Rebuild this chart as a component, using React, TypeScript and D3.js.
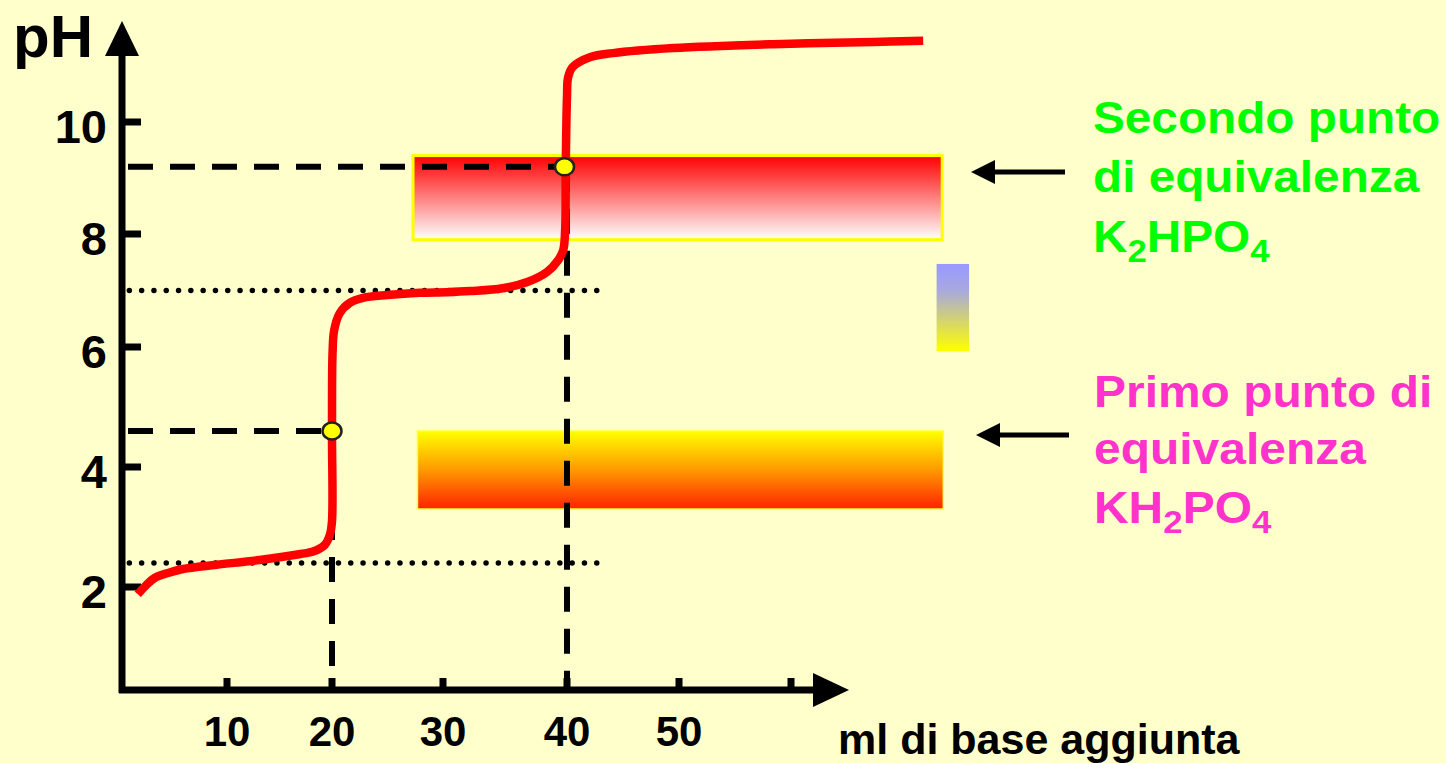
import React from "react";
import * as d3 from "d3";

// ---- data ----
const xTicks = [10, 20, 30, 40, 50, 60];
const xTickLabels = ["10", "20", "30", "40", "50", ""];
const yTicks = [2, 4, 6, 8, 10];
const yTickLabels = ["2", "4", "6", "8", "10"];

const curveMl = [1.5, 2.3, 3.1, 4.3, 5.8, 9.0, 13.1, 17.0, 18.2, 19.3, 19.8, 20, 20, 20.05, 20.2, 20.7, 21.6, 22.8, 25, 27.9, 30.3, 32.2, 34.8, 36.8, 38.4, 39.3, 39.7, 39.85, 39.9, 40, 40.1, 40.5, 42.1, 44.1, 49.5, 58.4, 67.4, 71.8];
const curvePH = [1.88, 2.03, 2.15, 2.23, 2.3, 2.37, 2.45, 2.55, 2.59, 2.7, 2.87, 3.1, 4.6, 5.9, 6.3, 6.6, 6.78, 6.87, 6.92, 6.96, 6.97, 6.99, 7.04, 7.15, 7.33, 7.54, 7.72, 8.07, 9.2, 10.45, 10.8, 10.98, 11.16, 11.23, 11.32, 11.39, 11.43, 11.45];

const equivMl = [20, 39.8];
const equivPH = [4.6, 9.2];
const halfEquivPH = [2.4, 7.0];
const dottedMlRange = [0.7, 43.3];

const indicatorHighPH = [7.9, 9.4]; // red → white
const indicatorLowPH = [3.3, 4.6]; // yellow → red
const indicatorMl = [27.3, 73.5];
const indicatorLowMl = [27.7, 73.6];
const smallBarMl = [73.0, 75.9];
const smallBarPH = [5.93, 7.47];

const secondLabel = ["Secondo punto", "di equivalenza"];
const firstLabel = ["Primo punto di", "equivalenza"];

export default function App() {
  const W = 1446;
  const H = 763;
  const x = d3.scaleLinear().domain([0, 10, 20, 30, 40, 50, 60, 80]).range([122, 227, 332, 443, 567, 679, 791, 1015]);
  const y = d3.scaleLinear().domain([0, 2, 4, 6, 8, 10, 12]).range([707, 587, 467, 347, 234, 122, 10]);

  const axisY = 690;
  const axisX = x(0);

  const line = d3
    .line<number>()
    .x((_, i) => x(curveMl[i]))
    .y((d) => y(d))
    .curve(d3.curveCatmullRom.alpha(0.5));
  const curvePath = line(curvePH) || "";

  const font = "Arial, 'Liberation Sans', Helvetica, sans-serif";

  const arrowLeft = (xTip: number, yy: number, xStart: number) => (
    <g>
      <line x1={xStart} y1={yy} x2={xTip + 18} y2={yy} stroke="#000" strokeWidth={5} />
      <path d={`M${xTip},${yy} L${xTip + 24},${yy - 12} L${xTip + 24},${yy + 12} Z`} fill="#000" />
    </g>
  );

  const stretch = (x0: number, s: number) => `translate(${x0},0) scale(${s},1) translate(${-x0},0)`;

  return (
    <svg width={W} height={H} style={{ position: "absolute", left: 0, top: 0 }} fontFamily={font}>
      <defs>
        <linearGradient id="gHigh" x1="0" y1="0" x2="0" y2="1">
          <stop offset="0" stopColor="#FF0000" />
          <stop offset="1" stopColor="#FFFFFF" />
        </linearGradient>
        <linearGradient id="gLow" x1="0" y1="0" x2="0" y2="1">
          <stop offset="0" stopColor="#FFFF00" />
          <stop offset="0.5" stopColor="#FF9900" />
          <stop offset="1" stopColor="#FF2200" />
        </linearGradient>
        <linearGradient id="gSmall" x1="0" y1="0" x2="0" y2="1">
          <stop offset="0" stopColor="#9999FF" />
          <stop offset="0.3" stopColor="#A8A8E0" />
          <stop offset="1" stopColor="#FFFF00" />
        </linearGradient>
      </defs>
      <rect x={0} y={0} width={W} height={H} fill="#FFFFCC" />

      {/* indicator bars */}
      <rect x={x(indicatorMl[0])} y={y(indicatorHighPH[1])} width={x(indicatorMl[1]) - x(indicatorMl[0])} height={y(indicatorHighPH[0]) - y(indicatorHighPH[1])} fill="url(#gHigh)" stroke="#FFFF00" strokeWidth={3} />
      <rect x={x(indicatorLowMl[0])} y={y(indicatorLowPH[1])} width={x(indicatorLowMl[1]) - x(indicatorLowMl[0])} height={y(indicatorLowPH[0]) - y(indicatorLowPH[1])} fill="url(#gLow)" stroke="#FFFF33" strokeWidth={1.5} />
      <rect x={x(smallBarMl[0])} y={y(smallBarPH[1])} width={x(smallBarMl[1]) - x(smallBarMl[0])} height={y(smallBarPH[0]) - y(smallBarPH[1])} fill="url(#gSmall)" />

      {/* dotted half-equivalence lines */}
      {halfEquivPH.map((p, i) => (
        <line key={"dot" + i} x1={x(dottedMlRange[0])} x2={x(dottedMlRange[1])} y1={y(p)} y2={y(p)} stroke="#000" strokeWidth={5.5} strokeLinecap="round" strokeDasharray="0,12.3" />
      ))}

      {/* dashed equivalence lines */}
      {equivPH.map((p, i) => (
        <g key={"dash" + i}>
          <line x1={axisX + 6} x2={x(equivMl[i])} y1={y(p)} y2={y(p)} stroke="#000" strokeWidth={6} strokeDasharray="25,17" />
          <line x1={x(Math.round(equivMl[i]))} x2={x(Math.round(equivMl[i]))} y1={y(p)} y2={axisY} stroke="#000" strokeWidth={6} strokeDasharray="25,17" />
        </g>
      ))}

      {/* axes */}
      <line x1={axisX} x2={axisX} y1={axisY + 3} y2={50} stroke="#000" strokeWidth={7} />
      <path d={`M${axisX},21 L${axisX - 17},56 L${axisX + 17},56 Z`} fill="#000" />
      <line x1={axisX - 3} x2={815} y1={axisY} y2={axisY} stroke="#000" strokeWidth={7} />
      <path d={`M849,${axisY} L813,${axisY - 17} L813,${axisY + 17} Z`} fill="#000" />

      {yTicks.map((t, i) => (
        <g key={"yt" + i}>
          <line x1={axisX} x2={axisX + 19} y1={y(t)} y2={y(t)} stroke="#000" strokeWidth={7} />
          <text x={107} y={y(t) + 21} textAnchor="end" fontSize={47} fontWeight="bold" fill="#000">
            {yTickLabels[i]}
          </text>
        </g>
      ))}
      {xTicks.map((t, i) => (
        <g key={"xt" + i}>
          <line x1={x(t)} x2={x(t)} y1={axisY} y2={axisY - 12} stroke="#000" strokeWidth={7} />
          <text x={x(t)} y={746} textAnchor="middle" fontSize={42} fontWeight="bold" fill="#000">
            {xTickLabels[i]}
          </text>
        </g>
      ))}

      {/* titration curve */}
      <path d={curvePath} fill="none" stroke="#FF0000" strokeWidth={8.5} strokeLinecap="butt" strokeLinejoin="round" />

      {/* equivalence points */}
      {equivPH.map((p, i) => (
        <ellipse key={"eq" + i} cx={x(equivMl[i])} cy={y(p)} rx={9.5} ry={8.5} fill="#FFFF00" stroke="#222" strokeWidth={2.5} />
      ))}

      {/* axis titles */}
      <text x={13} y={57} fontSize={60} fontWeight="bold" fill="#000">pH</text>
      <text x={838} y={754} fontSize={43} fontWeight="bold" fill="#000">ml di base aggiunta</text>

      {/* arrows */}
      {arrowLeft(971, 172, 1065)}
      {arrowLeft(976, 435, 1069)}

      {/* labels */}
      <text fontSize={44} fontWeight="bold" fill="#00FF00" transform={stretch(1093, 1.085)}>
        <tspan x={1093} y={133}>{secondLabel[0]}</tspan>
        <tspan x={1093} y={192}>{secondLabel[1]}</tspan>
        <tspan x={1093} y={252}>K</tspan>
        <tspan fontSize={32} dy={10}>2</tspan>
        <tspan dy={-10}>HPO</tspan>
        <tspan fontSize={32} dy={10}>4</tspan>
      </text>
      <text fontSize={44} fontWeight="bold" fill="#FF33CC" transform={stretch(1094, 1.09)}>
        <tspan x={1094} y={407}>{firstLabel[0]}</tspan>
        <tspan x={1094} y={464}>{firstLabel[1]}</tspan>
        <tspan x={1094} y={523}>KH</tspan>
        <tspan fontSize={32} dy={10}>2</tspan>
        <tspan dy={-10}>PO</tspan>
        <tspan fontSize={32} dy={10}>4</tspan>
      </text>
    </svg>
  );
}
